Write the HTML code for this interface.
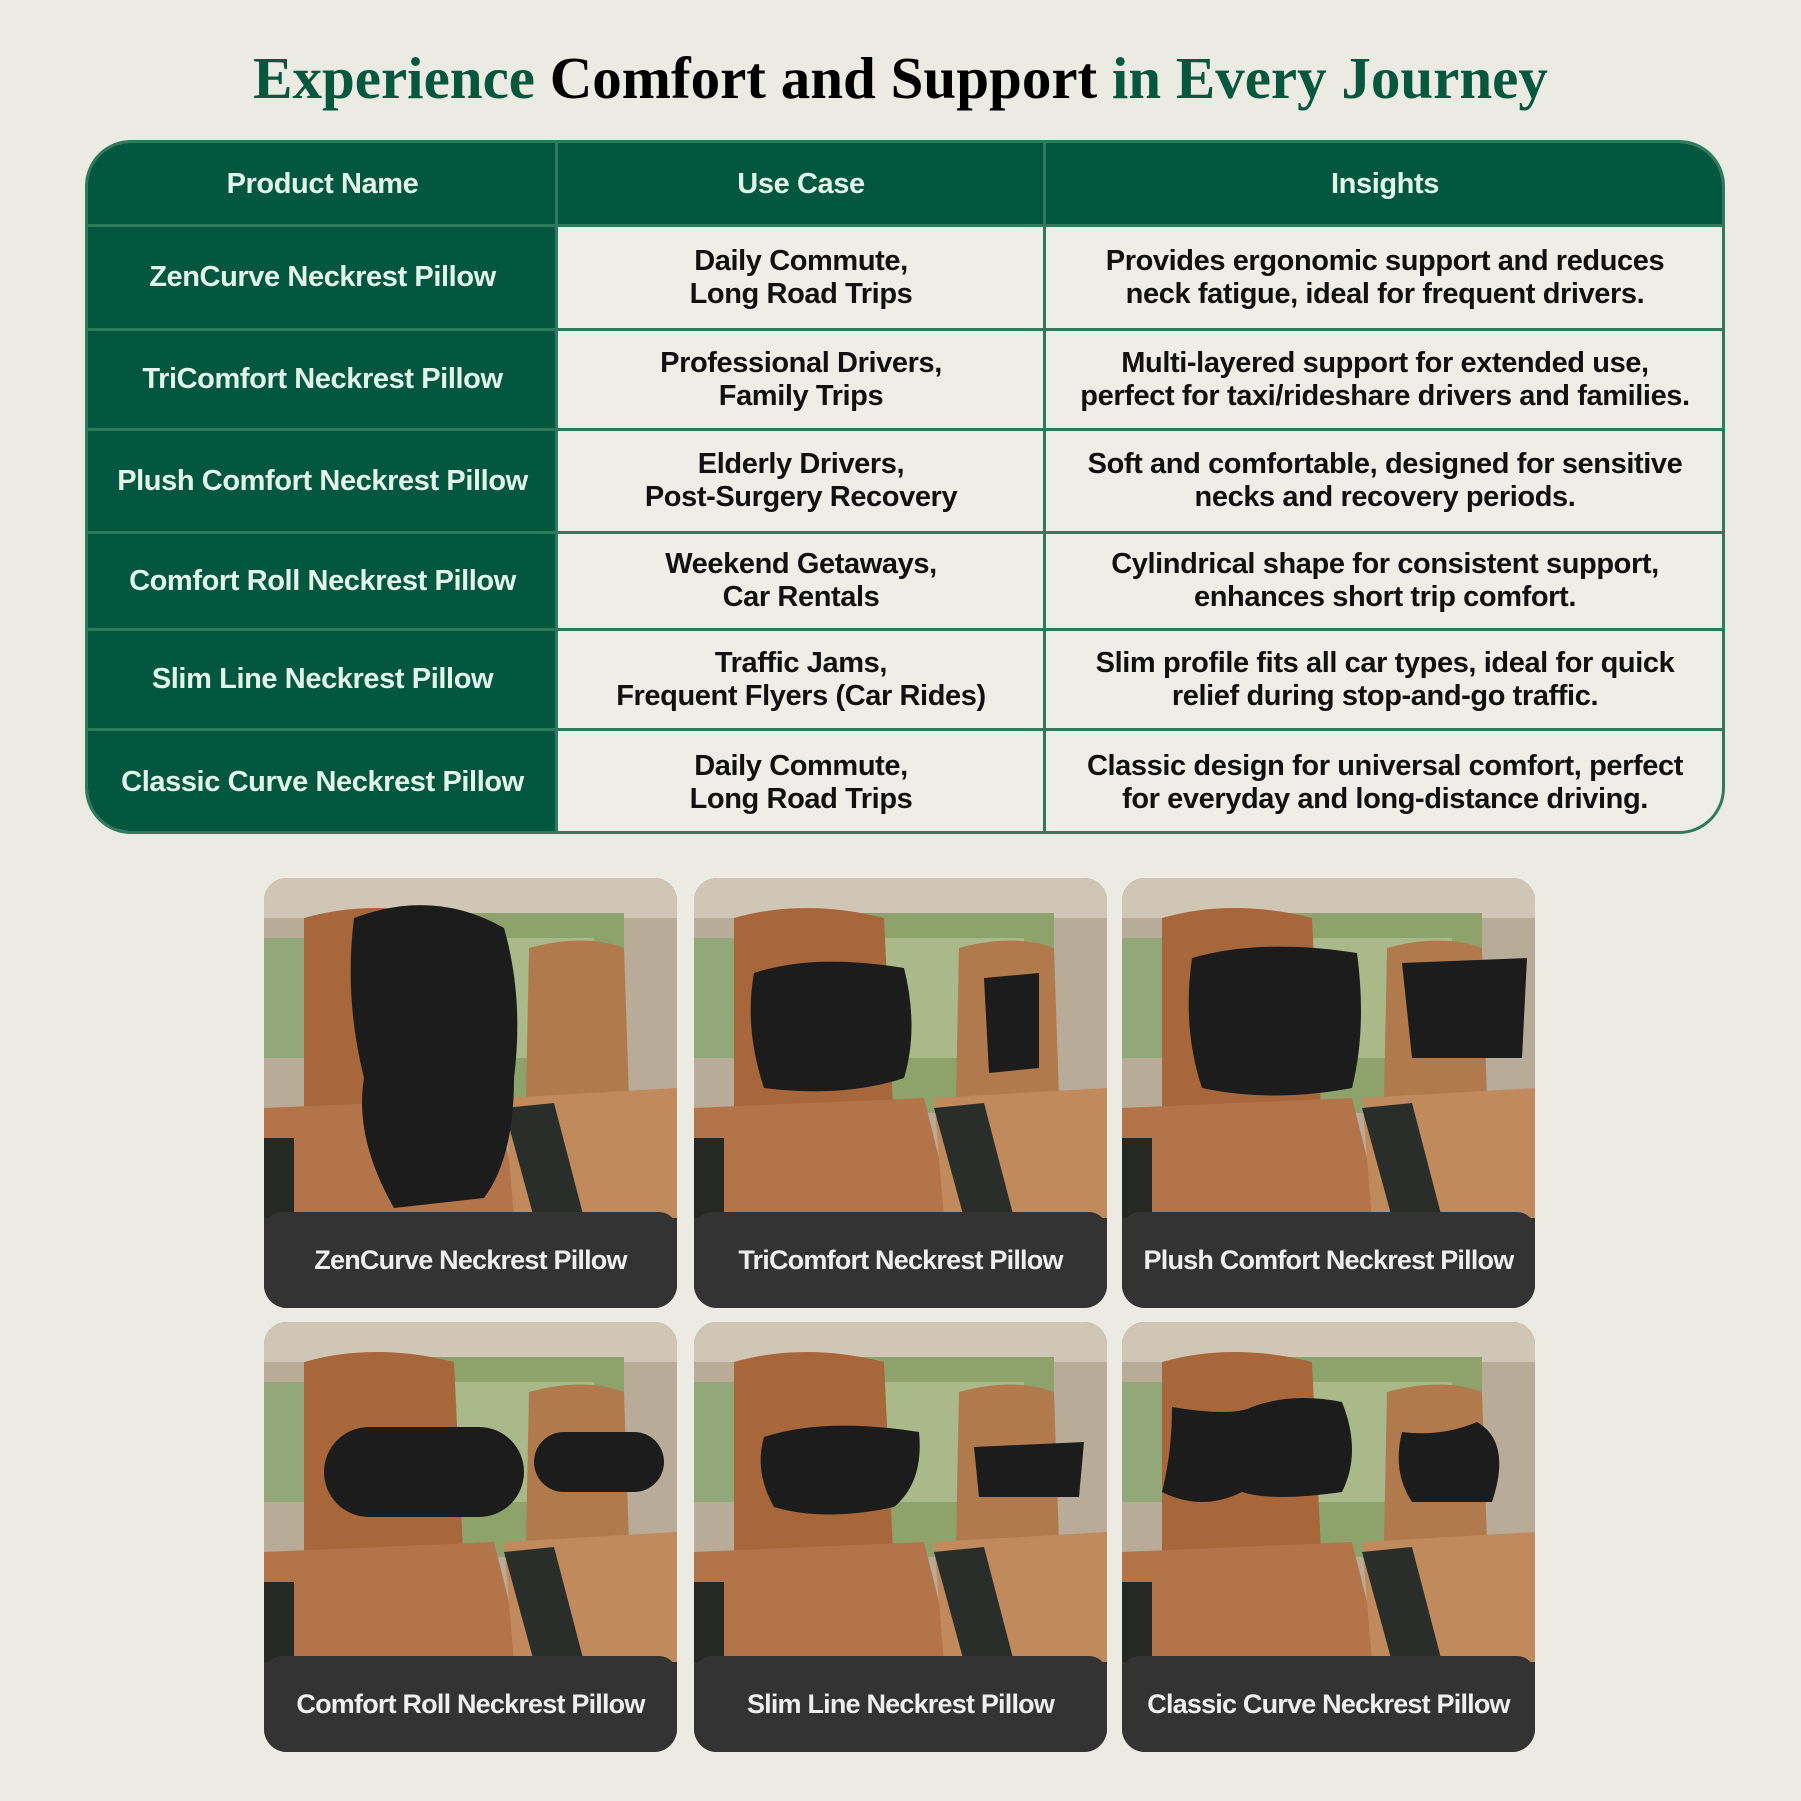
<!DOCTYPE html>
<html><head><meta charset="utf-8">
<style>
*{margin:0;padding:0;box-sizing:border-box}
body{width:1801px;height:1801px;background:#ebeae3;position:relative;overflow:hidden;font-family:"Liberation Sans",sans-serif}
.title{position:absolute;left:0;width:1801px;top:44px;text-align:center;font-family:"Liberation Serif",serif;font-weight:bold;font-size:59px;color:#000;white-space:nowrap}
.title .g{color:#07573f}
.tbl{position:absolute;left:85px;top:140px;width:1640px;height:694px;border:3px solid #2f7a5a;border-radius:46px;overflow:hidden;background:#eeede7}
.hd{position:absolute;left:0;top:0;width:100%;height:83px;background:#04573f}
.c1{position:absolute;left:0;top:0;width:469px;height:100%;background:#04573f}
.vl{position:absolute;top:0;width:3px;height:100%;background:#2f7a5a}
.hl{position:absolute;left:0;width:100%;height:3px;background:#2f7a5a}
.t{position:absolute;display:flex;align-items:center;justify-content:center;text-align:center;font-weight:bold;font-size:29px;line-height:33px;color:#111;letter-spacing:-0.4px;white-space:nowrap}
.w{color:#e4f3ea}
.card{position:absolute;width:413px;height:430px;border-radius:23px;overflow:hidden;background:#333}
.card svg{position:absolute;left:0;top:0}
.lab{position:absolute;left:0;bottom:0;width:100%;height:96px;background:#333;display:flex;align-items:center;justify-content:center;color:#eee;font-weight:bold;font-size:27px;letter-spacing:-0.8px;white-space:nowrap;border-radius:18px 18px 0 0}
</style></head><body>
<div class="title"><span class="g">Experience</span> Comfort and Support <span class="g">in Every Journey</span></div>
<div class="tbl">
<div class="hd"></div><div class="c1"></div>
<div class="vl" style="left:467px"></div><div class="vl" style="left:955px"></div>
<div class="hl" style="top:81px"></div><div class="hl" style="top:185px"></div><div class="hl" style="top:285px"></div><div class="hl" style="top:388px"></div><div class="hl" style="top:485px"></div><div class="hl" style="top:585px"></div>
<div class="t w" style="left:0;width:469px;top:0;height:83px">Product Name</div>
<div class="t w" style="left:469px;width:488px;top:0;height:83px">Use Case</div>
<div class="t w" style="left:957px;width:680px;top:0;height:83px">Insights</div>

<div class="t w" style="left:0;width:469px;top:84px;height:101px">ZenCurve Neckrest Pillow</div>
<div class="t" style="left:469px;width:488px;top:84px;height:101px">Daily Commute,<br>Long Road Trips</div>
<div class="t" style="left:957px;width:680px;top:84px;height:101px">Provides ergonomic support and reduces<br>neck fatigue, ideal for frequent drivers.</div>

<div class="t w" style="left:0;width:469px;top:188px;height:97px">TriComfort Neckrest Pillow</div>
<div class="t" style="left:469px;width:488px;top:188px;height:97px">Professional Drivers,<br>Family Trips</div>
<div class="t" style="left:957px;width:680px;top:188px;height:97px">Multi-layered support for extended use,<br>perfect for taxi/rideshare drivers and families.</div>

<div class="t w" style="left:0;width:469px;top:288px;height:100px">Plush Comfort Neckrest Pillow</div>
<div class="t" style="left:469px;width:488px;top:288px;height:100px">Elderly Drivers,<br>Post-Surgery Recovery</div>
<div class="t" style="left:957px;width:680px;top:288px;height:100px">Soft and comfortable, designed for sensitive<br>necks and recovery periods.</div>

<div class="t w" style="left:0;width:469px;top:391px;height:94px">Comfort Roll Neckrest Pillow</div>
<div class="t" style="left:469px;width:488px;top:391px;height:94px">Weekend Getaways,<br>Car Rentals</div>
<div class="t" style="left:957px;width:680px;top:391px;height:94px">Cylindrical shape for consistent support,<br>enhances short trip comfort.</div>

<div class="t w" style="left:0;width:469px;top:488px;height:97px">Slim Line Neckrest Pillow</div>
<div class="t" style="left:469px;width:488px;top:488px;height:97px">Traffic Jams,<br>Frequent Flyers (Car Rides)</div>
<div class="t" style="left:957px;width:680px;top:488px;height:97px">Slim profile fits all car types, ideal for quick<br>relief during stop-and-go traffic.</div>

<div class="t w" style="left:0;width:469px;top:588px;height:103px">Classic Curve Neckrest Pillow</div>
<div class="t" style="left:469px;width:488px;top:588px;height:103px">Daily Commute,<br>Long Road Trips</div>
<div class="t" style="left:957px;width:680px;top:588px;height:103px">Classic design for universal comfort, perfect<br>for everyday and long-distance driving.</div>
</div>

<svg width="0" height="0" style="position:absolute">
<defs>
<g id="scene">
<rect width="413" height="340" fill="#b8ab98"/>
<rect width="413" height="40" fill="#cfc6b6"/>
<rect x="150" y="35" width="210" height="200" fill="#8ea36c"/>
<rect x="180" y="60" width="150" height="120" fill="#a9b98a"/>
<rect x="0" y="60" width="60" height="120" fill="#93a878"/>
<path d="M40 40 Q110 20 190 40 L200 250 L40 250 Z" fill="#a8673a"/>
<path d="M0 230 L230 220 L260 340 L0 340 Z" fill="#b3744a"/>
<path d="M265 70 Q320 55 360 70 L365 220 L262 220 Z" fill="#b07a4c"/>
<path d="M240 220 L413 210 L413 340 L250 340 Z" fill="#c08a5c"/>
<path d="M240 230 L290 225 L320 340 L270 340 Z" fill="#2a2e2a"/>
<rect x="0" y="260" width="30" height="80" fill="#262826"/>
</g>
</defs>
</svg>

<div class="card" style="left:264px;top:878px"><svg width="413" height="340"><use href="#scene"/><path d="M90 40 Q170 10 240 50 Q260 120 250 200 Q250 280 220 320 L130 330 Q90 260 100 200 Q80 120 90 40Z" fill="#1c1c1c"/></svg><div class="lab">ZenCurve Neckrest Pillow</div></div>
<div class="card" style="left:694px;top:878px"><svg width="413" height="340"><use href="#scene"/><path d="M60 95 Q120 75 210 90 Q225 150 210 200 Q150 220 70 210 Q50 150 60 95Z" fill="#1c1c1c"/><path d="M290 100 L345 95 L345 190 L295 195Z" fill="#1c1c1c"/></svg><div class="lab">TriComfort Neckrest Pillow</div></div>
<div class="card" style="left:1122px;top:878px"><svg width="413" height="340"><use href="#scene"/><path d="M70 80 Q140 60 235 75 Q245 150 230 210 Q150 225 80 210 Q60 150 70 80Z" fill="#1c1c1c"/><path d="M280 85 L405 80 L400 180 L290 180Z" fill="#1c1c1c"/></svg><div class="lab">Plush Comfort Neckrest Pillow</div></div>

<div class="card" style="left:264px;top:1322px"><svg width="413" height="340"><use href="#scene"/><rect x="60" y="105" width="200" height="90" rx="45" fill="#1c1c1c"/><rect x="270" y="110" width="130" height="60" rx="30" fill="#1c1c1c"/></svg><div class="lab">Comfort Roll Neckrest Pillow</div></div>
<div class="card" style="left:694px;top:1322px"><svg width="413" height="340"><use href="#scene"/><path d="M70 115 Q130 95 225 110 Q230 160 200 185 Q130 200 80 185 Q60 150 70 115Z" fill="#1c1c1c"/><path d="M280 125 L390 120 L385 175 L285 175Z" fill="#1c1c1c"/></svg><div class="lab">Slim Line Neckrest Pillow</div></div>
<div class="card" style="left:1122px;top:1322px"><svg width="413" height="340"><use href="#scene"/><path d="M50 85 Q110 95 130 85 Q170 70 220 80 Q240 130 220 170 Q150 180 120 170 Q80 190 40 170 Q50 130 50 85Z" fill="#1c1c1c"/><path d="M280 110 Q320 115 355 100 Q390 120 370 180 L290 180 Q270 150 280 110Z" fill="#1c1c1c"/></svg><div class="lab">Classic Curve Neckrest Pillow</div></div>
</body></html>
